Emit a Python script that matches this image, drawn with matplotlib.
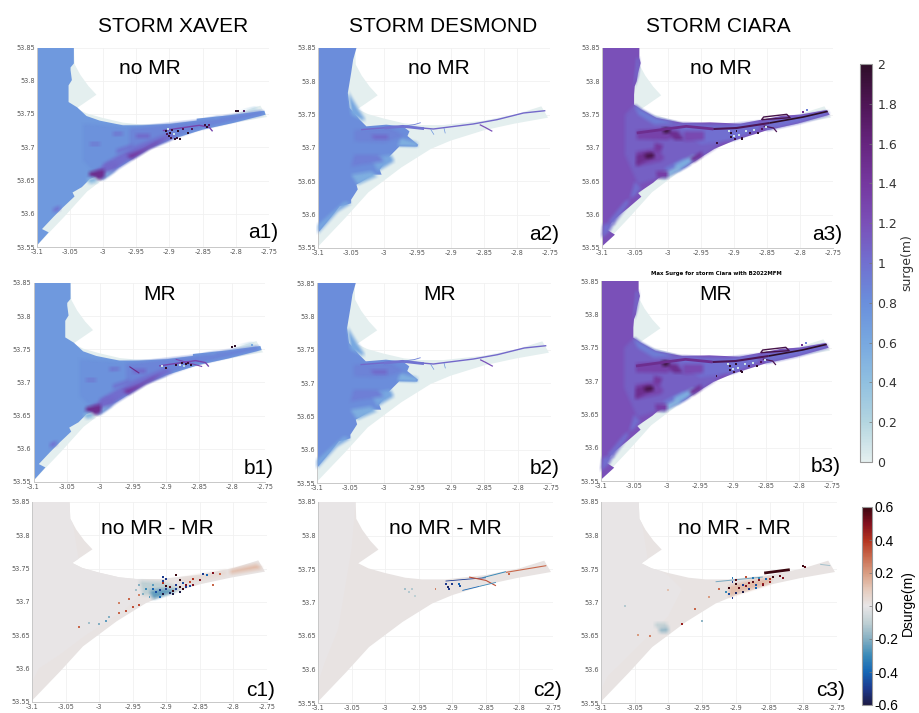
import numpy as np
import matplotlib
matplotlib.use("Agg")
import matplotlib.pyplot as plt
from matplotlib.colors import LinearSegmentedColormap, Normalize
from matplotlib.cm import ScalarMappable
from matplotlib.patches import Polygon

# colour stops
surge_cols = ['#e4efef', '#b3d5e0', '#90c0e0', '#78a8e0', '#6a8fdc', '#7170d0',
              '#7a50b8', '#7538a0', '#66257f', '#4f1656', '#2e0e28']
dsurge_cols = ['#1c1a45', '#1c3a8f', '#1566b5', '#3a8ab8', '#85afc2', '#c0d0d4', '#e8e6e7',
               '#e6cbbc', '#d99d82', '#c96a4d', '#b3331f', '#83101e', '#3b0710']

lon_ticks = [-3.1, -3.05, -3, -2.95, -2.9, -2.85, -2.8, -2.75]
lon_labels = ['-3.1', '-3.05', '-3', '-2.95', '-2.9', '-2.85', '-2.8', '-2.75']
lat_ticks = [53.55, 53.6, 53.65, 53.7, 53.75, 53.8, 53.85]
lat_labels = ['53.55', '53.6', '53.65', '53.7', '53.75', '53.8', '53.85']
surge_ticks = [0, 0.2, 0.4, 0.6, 0.8, 1, 1.2, 1.4, 1.6, 1.8, 2]
surge_ticklabels = ['0', '0.2', '0.4', '0.6', '0.8', '1', '1.2', '1.4', '1.6', '1.8', '2']
dsurge_ticks = [-0.6, -0.4, -0.2, 0, 0.2, 0.4, 0.6]
dsurge_ticklabels = ['-0.6', '-0.4', '-0.2', '0', '0.2', '0.4', '0.6']

storms = ['STORM XAVER', 'STORM DESMOND', 'STORM CIARA']

# model domain outline
dom_lon = [-3.1, -3.044, -3.043, -3.034, -3.022, -3.01, -3.04, -3.025, -3.0, -2.97, -2.945, -2.91, -2.85, -2.80,
           -2.763, -2.753, -2.804, -2.85, -2.90, -2.93, -2.974, -3.024, -3.058, -3.1]
dom_lat = [53.85, 53.85, 53.825, 53.8085, 53.792, 53.779, 53.7585, 53.751, 53.744, 53.737, 53.7345, 53.7345,
           53.741, 53.751, 53.7625, 53.7455, 53.7365, 53.7265, 53.711, 53.6985, 53.671, 53.6335, 53.596, 53.552]

# flooded area, xaver
xav_lon = [-3.1, -3.044, -3.044, -3.049, -3.049, -3.047, -3.052, -3.052, -3.039, -3.025, -3.005, -2.97, -2.94,
           -2.90, -2.859, -2.859, -2.83, -2.81, -2.757, -2.755, -2.804, -2.85, -2.90, -2.93, -2.974, -3.02,
           -3.032, -3.046, -3.043, -3.06, -3.075, -3.092, -3.082, -3.1]
xav_lat = [53.85, 53.85, 53.826, 53.82, 53.816, 53.801, 53.793, 53.768, 53.76, 53.747, 53.74, 53.733, 53.733,
           53.735, 53.74, 53.743, 53.746, 53.748, 53.755, 53.749, 53.7365, 53.7265, 53.711, 53.6985, 53.671,
           53.652, 53.64, 53.632, 53.626, 53.61, 53.595, 53.577, 53.572, 53.552]
xav_sea = 0.72

# (lons, lats, value), painted in order
xav_layers = [
    ([-3.03, -2.97, -2.9, -2.9, -2.96, -3.0, -3.03], [53.735, 53.731, 53.733, 53.71, 53.675, 53.65, 53.68], 0.78),
    ([-2.96, -2.86, -2.76, -2.76, -2.86, -2.93, -2.96], [53.728, 53.74, 53.755, 53.749, 53.726, 53.70, 53.69], 0.86),
    ([-3.0, -2.955, -2.90, -2.89, -2.955, -3.0], [53.675, 53.7, 53.722, 53.716, 53.683, 53.655], 1.02),
    ([-2.965, -2.94, -2.92, -2.905, -2.93, -2.957], [53.688, 53.697, 53.707, 53.713, 53.698, 53.682], 1.38),
    ([-3.012, -2.99, -2.975, -2.985, -3.005], [53.665, 53.677, 53.677, 53.664, 53.652], 1.05),
    ([-2.996, -2.975, -2.985, -3.003], [53.662, 53.668, 53.66, 53.652], 0.55),
    ([-3.02, -2.998, -2.998, -3.007, -3.022], [53.663, 53.667, 53.655, 53.651, 53.658], 1.5),
    ([-3.025, -3.012, -3.008, -3.02], [53.652, 53.655, 53.648, 53.645], 0.45),
    ([-2.95, -2.93, -2.93, -2.95], [53.72, 53.72, 53.714, 53.714], 1.05),
    ([-2.985, -2.97, -2.97, -2.985], [53.722, 53.722, 53.719, 53.718], 1.05),
    ([-3.02, -3.005, -3.005, -3.02], [53.706, 53.706, 53.703, 53.703], 1.05),
    ([-2.98, -2.955, -2.955, -2.98], [53.697, 53.705, 53.698, 53.69], 0.98),
    ([-3.075, -3.065, -3.065, -3.075], [53.608, 53.612, 53.606, 53.602], 1.0),
    ([-2.858, -2.825, -2.825, -2.858], [53.7435, 53.746, 53.744, 53.741], 0.6),
    ([-2.81, -2.77, -2.767, -2.81], [53.752, 53.7595, 53.7575, 53.7505], 0.4),
]
xav_lines = [([-2.91, -2.89, -2.855, -2.84, -2.835], [53.725, 53.728, 53.733, 53.73, 53.724], 1.3, 1.0)]
xav_spot_lon = [-2.905, -2.902, -2.899, -2.896, -2.893, -2.904, -2.9, -2.897, -2.892, -2.888, -2.884, -2.887, -2.879,
                -2.872, -2.866, -2.846, -2.843, -2.84, -2.8, -2.797, -2.788]
xav_spot_lat = [53.725, 53.727, 53.722, 53.726, 53.72, 53.72, 53.717, 53.714, 53.713, 53.714, 53.712, 53.725, 53.727,
                53.722, 53.728, 53.734, 53.731, 53.733, 53.754, 53.755, 53.755]
xav_spot_val = [2, 0.1, 2, 1.9, 0.1, 1.8, 2, 1.9, 2, 1.9, 2, 2, 1.8, 2, 1.8, 1.9, 2, 1.7, 2, 2, 1.7]
xav_mr_lines = [([-2.955, -2.94], [53.724, 53.714], 1.55, 0.8), ([-2.885, -2.845], [53.735, 53.724], 1.25, 0.8)]
xav_mr_lon = [-2.905, -2.9, -2.884, -2.879, -2.875, -2.87, -2.866, -2.862, -2.872, -2.8, -2.796, -2.77]
xav_mr_lat = [53.725, 53.722, 53.727, 53.726, 53.729, 53.728, 53.73, 53.727, 53.725, 53.754, 53.755, 53.757]
xav_mr_val = [0.1, 2, 2, 0.1, 2, 2, 1.9, 2, 0.2, 2, 2, 0.6]

# flooded area, desmond
des_lon = [-3.1, -3.042, -3.047, -3.05, -3.055, -3.052, -3.037, -3.027, -2.997, -2.972, -2.962, -2.965, -2.949,
           -2.95, -2.977, -2.992, -3.007, -3.004, -3.017, -3.042, -3.04, -3.05, -3.05, -3.067, -3.1]
des_lat = [53.85, 53.85, 53.8325, 53.8125, 53.7825, 53.76, 53.7425, 53.7325, 53.735, 53.7325, 53.725, 53.718,
           53.705, 53.702, 53.7025, 53.6875, 53.6675, 53.66, 53.66, 53.645, 53.638, 53.6225, 53.617, 53.6125, 53.5725]
des_sea = 0.82
des_layers = [
    ([-3.055, -3.04, -3.03, -3.03, -3.05], [53.785, 53.76, 53.745, 53.74, 53.75], 0.6),
    ([-3.05, -3.02, -3.01, -3.04], [53.66, 53.665, 53.658, 53.645], 0.55),
    ([-3.02, -2.99, -2.985, -3.01], [53.685, 53.69, 53.68, 53.665], 0.62),
    ([-2.975, -2.95, -2.95, -2.98], [53.715, 53.708, 53.702, 53.703], 0.55),
    ([-3.1, -3.06, -3.05, -3.07, -3.1], [53.585, 53.62, 53.617, 53.605, 53.572], 0.62),
    ([-3.045, -2.99, -2.97, -3.0, -3.045], [53.727, 53.73, 53.718, 53.708, 53.71], 0.88),
    ([-3.045, -3.01, -3.0, -3.035, -3.05], [53.69, 53.69, 53.68, 53.675, 53.672], 0.9),
    ([-3.02, -2.995, -2.995, -3.015], [53.72, 53.72, 53.714, 53.714], 1.05),
]
des_lines = [
    ([-3.035, -2.972, -2.926, -2.866, -2.83, -2.79, -2.757], [53.7275, 53.7325, 53.7285, 53.736, 53.7425, 53.7525,
                                                              53.756], 1.05, 1.0),
    ([-3.0, -2.972, -2.94], [53.73, 53.7325, 53.729], 0.98, 2.0),
    ([-2.856, -2.848, -2.837], [53.735, 53.731, 53.725], 1.2, 0.9),
    ([-2.97, -2.955, -2.945], [53.733, 53.735, 53.738], 0.9, 0.6),
    ([-2.93, -2.925], [53.728, 53.72], 0.75, 0.5),
    ([-2.91, -2.908], [53.73, 53.722], 0.75, 0.5),
]

# flooded area, ciara
cia_lon = [-3.1, -3.043, -3.043, -3.041, -3.045, -3.047, -3.05, -3.051, -3.051, -3.04, -3.017, -2.977, -2.936, -2.89,
           -2.858, -2.826, -2.80, -2.76, -2.755, -2.804, -2.85, -2.90, -2.93, -2.974, -3.014, -3.022, -3.045, -3.04,
           -3.06, -3.082, -3.092, -3.08, -3.1]
cia_lat = [53.85, 53.85, 53.835, 53.8275, 53.8125, 53.8, 53.7925, 53.78, 53.765, 53.7575, 53.745, 53.7375, 53.7385,
           53.7365, 53.7425, 53.7485, 53.75, 53.757, 53.75, 53.7365, 53.7265, 53.711, 53.6985, 53.671, 53.655, 53.648,
           53.6325, 53.627, 53.61, 53.5925, 53.5775, 53.57, 53.552]
cia_sea = 1.2
cia_layers = [
    ([-3.065, -3.05, -3.04, -3.02, -2.98, -2.93, -2.9, -2.93, -2.974, -3.015, -3.045, -3.065],
     [53.75, 53.765, 53.757, 53.745, 53.737, 53.737, 53.73, 53.6985, 53.671, 53.655, 53.645, 53.69], 1.1),
    ([-3.051, -3.04, -3.017, -2.985, -3.02, -3.045], [53.765, 53.7575, 53.745, 53.737, 53.735, 53.75], 0.92),
    ([-2.99, -2.93, -2.86, -2.86, -2.9, -2.95], [53.735, 53.738, 53.742, 53.728, 53.712, 53.705], 1.0),
    ([-2.86, -2.8, -2.755, -2.755, -2.804, -2.85], [53.74, 53.748, 53.756, 53.75, 53.7365, 53.7265], 1.0),
    ([-3.047, -3.0, -2.985, -3.0, -3.047], [53.7265, 53.729, 53.72, 53.712, 53.713], 1.32),
    ([-3.048, -3.015, -3.005, -3.01, -3.047], [53.695, 53.7, 53.685, 53.68, 53.672], 1.28),
    ([-3.047, -3.027, -3.02, -3.03, -3.048], [53.69, 53.695, 53.685, 53.682, 53.673], 1.5),
    ([-3.036, -3.022, -3.02, -3.032], [53.69, 53.693, 53.686, 53.684], 1.85),
    ([-3.02, -3.007, -3.01, -3.02], [53.708, 53.705, 53.695, 53.695], 1.4),
    ([-3.0, -2.985, -2.975, -2.99], [53.725, 53.725, 53.712, 53.712], 1.5),
    ([-3.008, -2.998, -2.996, -3.006], [53.73, 53.73, 53.724, 53.722], 1.95),
    ([-2.975, -2.945, -2.945, -2.975], [53.725, 53.725, 53.712, 53.71], 1.25),
    ([-3.005, -2.975, -2.965, -3.0], [53.67, 53.685, 53.675, 53.658], 0.95),
    ([-2.99, -2.96, -2.955, -2.985], [53.675, 53.69, 53.685, 53.665], 0.55),
    ([-3.01, -2.985, -2.98, -3.008], [53.66, 53.672, 53.668, 53.652], 0.45),
    ([-3.018, -3.0, -3.0, -3.016], [53.665, 53.665, 53.655, 53.655], 1.35),
    ([-2.967, -2.948, -2.948, -2.96], [53.685, 53.695, 53.688, 53.678], 1.45),
    ([-3.05, -3.04, -3.05, -3.065, -3.09, -3.082, -3.06], [53.65, 53.64, 53.628, 53.62, 53.59, 53.585, 53.615], 1.02),
    ([-3.098, -3.08, -3.088, -3.1], [53.585, 53.59, 53.575, 53.565], 1.02),
    ([-3.047, -3.042, -3.045, -3.051], [53.835, 53.835, 53.81, 53.79], 1.02),
]
cia_lines = [
    ([-3.047, -3.002, -2.972, -2.931], [53.7225, 53.7285, 53.7325, 53.7285], 1.5, 2.0),
    ([-2.931, -2.896, -2.846], [53.7285, 53.73, 53.7375], 1.8, 1.5),
    ([-2.846, -2.795, -2.758], [53.7375, 53.7465, 53.755], 2, 1.2),
    ([-2.858, -2.855, -2.82, -2.815, -2.858], [53.7425, 53.7465, 53.7505, 53.7455, 53.7425], 1.85, 1.0),
    ([-2.855, -2.84, -2.835], [53.733, 53.73, 53.724], 1.8, 0.9),
]
cia_spot_lon = [-2.908, -2.904, -2.9, -2.896, -2.892, -2.888, -2.882, -2.876, -2.87, -2.864, -2.858, -2.852,
                -2.905, -2.898, -2.887, -2.795, -2.79, -2.925]
cia_spot_lat = [53.726, 53.722, 53.718, 53.725, 53.72, 53.715, 53.726, 53.722, 53.727, 53.723, 53.728, 53.732,
                53.716, 53.714, 53.713, 53.754, 53.757, 53.707]
cia_spot_val = [0.1, 2, 0.1, 2, 0.1, 1.9, 0.1, 1.9, 0.1, 2, 1.8, 0.1, 2, 1.9, 2, 1.5, 0.9, 1.9]

# difference panels
xav_d_lon = [-2.92, -2.915, -2.91, -2.905, -2.9, -2.895, -2.89, -2.885, -2.88, -2.875, -2.87, -2.865, -2.86,
             -2.905, -2.9, -2.895, -2.89, -2.885, -2.88, -2.875, -2.87, -2.865, -2.9, -2.885, -2.86, -2.84, -2.83,
             -2.915, -2.925, -2.935, -2.94, -2.945, -2.93, -2.92, -2.91, -2.905, -2.95, -2.96, -2.97, -2.955, -2.94,
             -2.985, -3.0, -3.03, -3.015, -2.99, -2.97, -2.94, -2.85, -2.83, -2.905, -2.88, -2.845, -2.82]
xav_d_lat = [53.72, 53.715, 53.718, 53.712, 53.724, 53.714, 53.717, 53.72, 53.715, 53.72, 53.722, 53.724, 53.726,
             53.728, 53.72, 53.722, 53.712, 53.726, 53.722, 53.728, 53.726, 53.73, 53.734, 53.74, 53.735, 53.74, 53.744,
             53.712, 53.708, 53.712, 53.726, 53.718, 53.72, 53.726, 53.708, 53.732, 53.693, 53.686, 53.683, 53.704,
             53.695, 53.678, 53.667, 53.662, 53.668, 53.672, 53.698, 53.71, 53.733, 53.725, 53.737, 53.733, 53.742, 53.742]
xav_d_val = [-0.4, -0.45, -0.5, -0.6, 0.6, -0.55, 0.6, -0.5, -0.6, 0.6, -0.5, -0.45, 0.5, 0.4, -0.5, 0.55, -0.6, -0.5,
             0.6, -0.45, 0.5, 0.35, -0.5, 0.6, 0.4, -0.4, 0.5, -0.25, -0.25, -0.2, -0.2, -0.15, -0.3, -0.25, -0.4,
             -0.5, 0.35, 0.35, 0.3, 0.3, 0.35, -0.2, -0.2, 0.3, -0.15, -0.25, 0.25, 0.25, 0.5, 0.3, -0.5, 0.6, -0.5, 0.3]
xav_d_layers = [
    ([-2.94, -2.905, -2.875, -2.9, -2.935], [53.732, 53.73, 53.72, 53.71, 53.71], -0.1),
    ([-2.925, -2.905, -2.885, -2.895, -2.92], [53.717, 53.72, 53.718, 53.712, 53.704], -0.24),
    ([-2.805, -2.765, -2.757, -2.805], [53.748, 53.757, 53.75, 53.742], 0.13),
    ([-2.88, -2.81, -2.81, -2.87], [53.735, 53.748, 53.74, 53.728], 0.04),
]
des_d_lines = [
    ([-2.91, -2.875, -2.85], [53.732, 53.735, 53.737], -0.5, 0.6),
    ([-2.875, -2.85, -2.835], [53.738, 53.733, 53.725], 0.35, 0.8),
    ([-2.855, -2.82], [53.737, 53.746], -0.3, 0.7),
    ([-2.82, -2.76], [53.745, 53.755], 0.3, 0.8),
    ([-2.885, -2.86], [53.718, 53.724], -0.4, 0.6),
    ([-2.86, -2.835], [53.724, 53.73], -0.3, 0.6),
]
des_d_lon = [-2.91, -2.907, -2.905, -2.89, -2.888, -2.9, -2.925, -2.97, -2.965, -2.955, -2.96, -2.815]
des_d_lat = [53.727, 53.723, 53.72, 53.728, 53.725, 53.727, 53.72, 53.72, 53.715, 53.71, 53.72, 53.743]
des_d_val = [-0.5, -0.55, -0.5, -0.4, -0.45, -0.5, 0.25, -0.15, -0.12, -0.1, -0.12, 0.3]
cia_d_layers = [
    ([-2.91, -2.88, -2.845, -2.85, -2.895, -2.91], [53.725, 53.732, 53.738, 53.728, 53.714, 53.708], 0.13),
    ([-3.02, -3.002, -3.002, -3.02], [53.67, 53.67, 53.664, 53.664], -0.1),
    ([-3.015, -3.0, -3.0, -3.013], [53.662, 53.664, 53.655, 53.655], -0.16),
]
cia_d_lines = [
    ([-2.858, -2.82], [53.744, 53.749], 0.6, 2.0),
    ([-2.93, -2.9, -2.86], [53.731, 53.734, 53.738], -0.22, 0.7),
    ([-2.775, -2.76], [53.757, 53.755], -0.15, 0.7),
]
cia_d_lon = [-2.91, -2.905, -2.9, -2.895, -2.89, -2.885, -2.88, -2.875, -2.87, -2.865, -2.86, -2.855, -2.85, -2.845,
             -2.91, -2.9, -2.89, -2.88, -2.87, -2.86, -2.85, -2.905, -2.9, -2.885, -2.875, -2.865, -2.835, -2.83,
             -2.8, -2.798, -2.98, -2.96, -2.95, -3.028, -3.045, -3.065, -2.915, -2.925, -2.905, -2.94, -3.0]
cia_d_lat = [53.722, 53.73, 53.714, 53.722, 53.716, 53.725, 53.72, 53.73, 53.726, 53.733, 53.728, 53.735, 53.73, 53.738,
             53.712, 53.728, 53.726, 53.729, 53.721, 53.726, 53.735, 53.737, 53.733, 53.738, 53.736, 53.737, 53.74, 53.737,
             53.755, 53.753, 53.6675, 53.69, 53.673, 53.65, 53.652, 53.695, 53.715, 53.72, 53.706, 53.708, 53.718]
cia_d_val = [0.6, -0.5, -0.55, 0.55, -0.6, 0.5, -0.5, 0.55, -0.45, 0.5, 0.45, -0.4, 0.45, 0.6,
             -0.45, 0.6, -0.5, 0.5, -0.4, 0.5, 0.4, -0.35, 0.55, 0.35, -0.35, -0.3, 0.55, 0.5,
             0.6, 0.55, 0.45, 0.3, -0.18, 0.25, 0.2, -0.12, -0.3, 0.3, -0.5, 0.2, 0.12]

# grey western part of each difference panel
grey_xav_lon = [-3.1, -3.044, -3.03, -3.0, -2.96, -2.92, -2.96, -3.02, -3.06, -3.09, -3.1]
grey_xav_lat = [53.85, 53.85, 53.76, 53.745, 53.74, 53.73, 53.69, 53.65, 53.62, 53.6, 53.58]
grey_des_lon = [-3.1, -3.044, -3.05, -3.06, -3.07, -3.09, -3.1]
grey_des_lat = [53.85, 53.85, 53.78, 53.72, 53.66, 53.61, 53.58]
grey_cia_lon = [-3.1, -3.044, -3.03, -3.0, -2.98, -3.0, -3.04, -3.07, -3.09, -3.1]
grey_cia_lat = [53.85, 53.85, 53.76, 53.74, 53.72, 53.68, 53.64, 53.61, 53.59, 53.57]

surge_cmap = LinearSegmentedColormap.from_list('surge', surge_cols)
dsurge_cmap = LinearSegmentedColormap.from_list('dsurge', dsurge_cols)
surge_norm = Normalize(0, 2)
dsurge_norm = Normalize(-0.6, 0.6)

W, H = 919, 713
fig = plt.figure(figsize=(W / 100, H / 100), dpi=100)
plt.rcParams['font.family'] = ['Liberation Sans', 'DejaVu Sans']


def px_axes(x0, x1, y0, y1):
    return fig.add_axes([x0 / W, 1 - y1 / H, (x1 - x0) / W, (y1 - y0) / H])


def px_text(x, y, s, **kw):
    fig.text(x / W, 1 - y / H, s, ha=kw.pop('ha', 'center'), va=kw.pop('va', 'center'), **kw)


def box(a, r, axis):
    return sum(np.roll(a, k, axis=axis) for k in range(-r, r + 1)) / (2 * r + 1)


def soft(r):
    # the original figure is a resampled screenshot, so mesh edges look soft
    def flt(im, dpi):
        pad = r + 1
        out = np.pad(im, ((pad, pad), (pad, pad), (0, 0)))
        alpha = out[..., 3:]
        rgb = out[..., :3] * alpha
        for axis in [0, 1]:
            rgb = box(rgb, r, axis)
            alpha = box(alpha, r, axis)
        rgb = rgb / np.maximum(alpha, 1e-4)
        return np.clip(np.concatenate([rgb, alpha], axis=2), 0, 1), -pad, -pad
    return flt


def setup(ax):
    ax.set_xlim(-3.1, -2.75)
    ax.set_ylim(53.55, 53.85)
    ax.set_xticks(lon_ticks, lon_labels, fontsize=4.7, color='#555555', family='DejaVu Sans')
    ax.set_yticks(lat_ticks, lat_labels, fontsize=4.7, color='#555555', family='DejaVu Sans')
    ax.tick_params(length=0, pad=1.5)
    ax.grid(color='#f1f1f1', lw=0.6)
    ax.set_axisbelow(True)
    for s in ['top', 'right']:
        ax.spines[s].set_visible(False)
    for s in ['left', 'bottom']:
        ax.spines[s].set_color('#c8c8c8')
        ax.spines[s].set_linewidth(0.7)


def paint(ax, layers, lines, spot_lon, spot_lat, spot_val, cmap, norm, spot_size):
    clip = Polygon(list(zip(dom_lon, dom_lat)), closed=True, transform=ax.transData)
    for lo, la, v in layers:
        p = ax.fill(lo, la, color=cmap(norm(v)), lw=0, zorder=3)[0]
        p.set_clip_path(clip)
        p.set_agg_filter(soft(2))
    for lo, la, v, lw in lines:
        ax.plot(lo, la, color=cmap(norm(v)), lw=lw, zorder=4, solid_capstyle='butt')
    if len(spot_lon):
        ax.scatter(spot_lon, spot_lat, c=spot_val, cmap=cmap, norm=norm, s=spot_size, marker='s', linewidths=0, zorder=5)


top_row = [(36.7, 269, 47.5, 247), (318, 550, 48, 248), (601.7, 833, 48, 248)]
mid_row = [(33.5, 265, 283, 482), (317, 551, 283, 483), (601, 832, 281, 481)]
bot_row = [(32, 267, 502, 702), (318, 553, 502, 703), (601, 837, 502, 703)]
surge_fields = [
    (xav_lon, xav_lat, xav_sea, xav_layers, xav_lines, xav_spot_lon, xav_spot_lat, xav_spot_val),
    (des_lon, des_lat, des_sea, des_layers, des_lines, [], [], []),
    (cia_lon, cia_lat, cia_sea, cia_layers, cia_lines, cia_spot_lon, cia_spot_lat, cia_spot_val),
]
tags_a = ['a1)', 'a2)', 'a3)']
tags_b = ['b1)', 'b2)', 'b3)']
tags_c = ['c1)', 'c2)', 'c3)']

for row, tags, label, label_x, label_y in [(top_row, tags_a, 'no MR', [150, 439, 721], 68),
                                           (mid_row, tags_b, 'MR', [160, 440, 716], 295)]:
    for i in range(3):
        ax = px_axes(*row[i])
        setup(ax)
        wet_lon, wet_lat, sea, layers, lines, slon, slat, sval = surge_fields[i]
        ax.fill(dom_lon, dom_lat, color=surge_cmap(surge_norm(0.0)), lw=0, zorder=2)
        ax.fill(wet_lon, wet_lat, color=surge_cmap(surge_norm(sea)), lw=0, zorder=2.5)
        if i == 0 and row is mid_row:
            lines = lines + xav_mr_lines
            slon, slat, sval = xav_mr_lon, xav_mr_lat, xav_mr_val
        paint(ax, layers, lines, slon, slat, sval, surge_cmap, surge_norm, 2.0)
        px_text(label_x[i], label_y, label, fontsize=15)
        px_text(row[i][1] - 6, row[i][3] - 14, tags[i], fontsize=15)

diff_fields = [
    (xav_d_layers, [], xav_d_lon, xav_d_lat, xav_d_val, grey_xav_lon, grey_xav_lat),
    ([], des_d_lines, des_d_lon, des_d_lat, des_d_val, grey_des_lon, grey_des_lat),
    (cia_d_layers, cia_d_lines, cia_d_lon, cia_d_lat, cia_d_val, grey_cia_lon, grey_cia_lat),
]
no_mr_x = [157, 445, 734]
for i in range(3):
    ax = px_axes(*bot_row[i])
    setup(ax)
    layers, lines, slon, slat, sval, glon, glat = diff_fields[i]
    ax.fill(dom_lon, dom_lat, color=dsurge_cmap(dsurge_norm(0.012)), lw=0, zorder=2)
    west = ax.fill(glon, glat, color=dsurge_cmap(dsurge_norm(0.0)), lw=0, zorder=2.5)[0]
    west.set_clip_path(Polygon(list(zip(dom_lon, dom_lat)), closed=True, transform=ax.transData))
    paint(ax, layers, lines, slon, slat, sval, dsurge_cmap, dsurge_norm, 2.0)
    px_text(no_mr_x[i], 528, 'no MR - MR', fontsize=15)
    px_text(bot_row[i][1] - 6, 690, tags_c[i], fontsize=15)

for x, name in zip([173, 443, 718], storms):
    px_text(x, 26, name, fontsize=15)

px_text(716, 273.5, 'Max Surge for storm Ciara with B2022MFM', fontsize=3.9, fontweight='bold', family='DejaVu Sans')

# colourbars
cax = px_axes(860, 872, 64, 462)
cb = fig.colorbar(ScalarMappable(norm=surge_norm, cmap=surge_cmap), cax=cax)
cb.set_ticks(surge_ticks, labels=surge_ticklabels)
cb.ax.tick_params(labelsize=9, labelcolor='#333333', length=2, width=0.5, color='#777777', direction='in', pad=4)
for t in cb.ax.get_yticklabels():
    t.set_family('DejaVu Sans')
cb.outline.set_edgecolor('#999999')
cb.outline.set_linewidth(0.8)
px_text(907, 263, 'surge(m)', fontsize=9, rotation=90, color='#333333', family='DejaVu Sans')

dax = px_axes(862, 872, 507, 705)
db = fig.colorbar(ScalarMappable(norm=dsurge_norm, cmap=dsurge_cmap), cax=dax)
db.set_ticks(dsurge_ticks, labels=dsurge_ticklabels)
db.ax.tick_params(labelsize=10, length=2, width=0.5, color='#777777', direction='in', pad=1.5)
db.outline.set_edgecolor('#999999')
db.outline.set_linewidth(0.8)
px_text(908, 603, 'Dsurge(m)', fontsize=10, rotation=90)

fig.savefig('out.png', dpi=100)
